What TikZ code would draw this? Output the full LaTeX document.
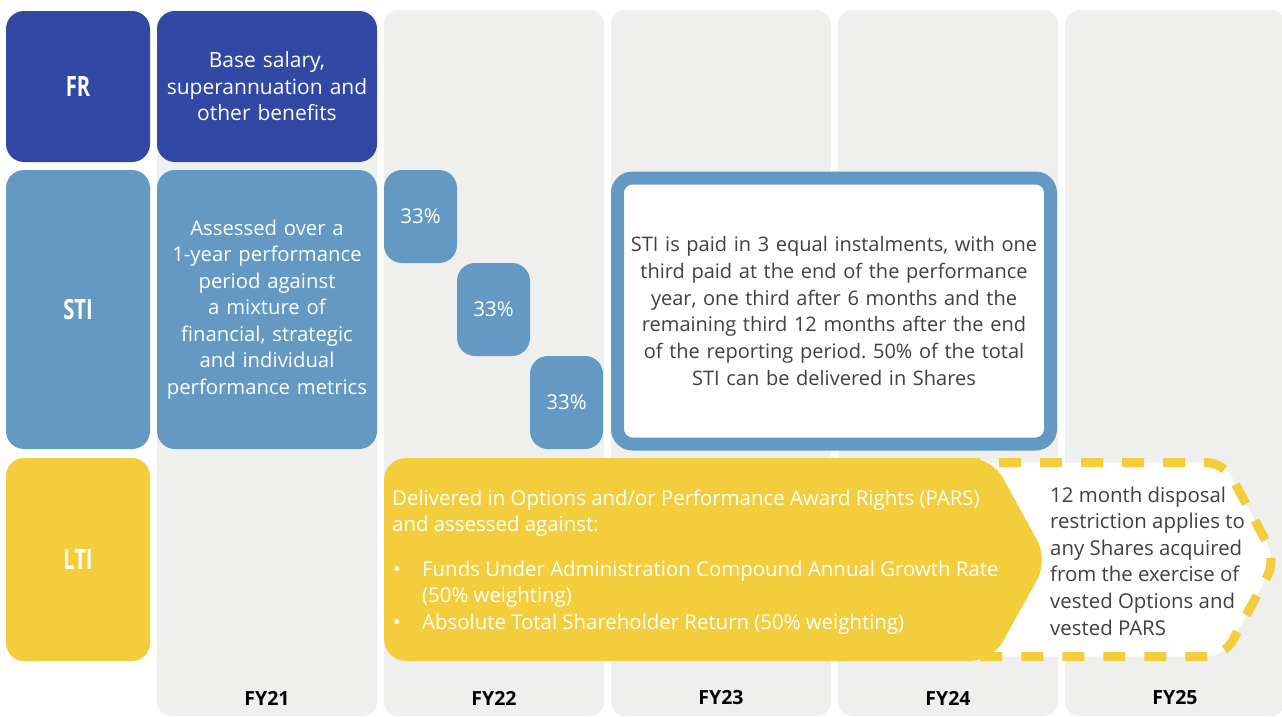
\documentclass[tikz,border=0pt]{standalone}
\usepackage{fontspec}
\setmainfont{Open Sans}
\newfontfamily\condfont[FakeStretch=0.72]{Open Sans}
\usetikzlibrary{positioning}

\definecolor{frblue}{RGB}{49,73,165}
\definecolor{stiblue}{RGB}{100,153,195}
\definecolor{ltiyel}{RGB}{243,205,59}
\definecolor{colgrey}{RGB}{239,239,237}
\definecolor{txtgrey}{RGB}{64,64,64}

\begin{document}
\frenchspacing
\begin{tikzpicture}[x=1pt,y=-1pt]

  % Definitions
  \tikzstyle{Column} = [rectangle, rounded corners=14pt, fill=colgrey, minimum width=220pt, minimum height=706pt, inner sep=0pt, outer sep=0pt]
  \tikzstyle{Label} = [rectangle, rounded corners=18pt, minimum width=144pt, inner sep=0pt, outer sep=0pt, text=white, font=\condfont\bfseries\fontsize{28}{30}\selectfont]
  \tikzstyle{Desc} = [rectangle, rounded corners=18pt, minimum width=220pt, text width=214pt, inner sep=3pt, outer sep=0pt, align=center, text=white, font=\fontsize{20.3}{26.5}\selectfont]
  \tikzstyle{Share} = [rectangle, rounded corners=18pt, fill=stiblue, minimum width=73pt, minimum height=93pt, inner sep=0pt, outer sep=0pt, text=white, font=\fontsize{20.5}{22}\selectfont]
  \tikzstyle{Year} = [font=\bfseries\fontsize{19.5}{22}\selectfont]
  \tikzstyle{Bodytext} = [align=left, inner sep=0pt, font=\fontsize{20.4}{26.6}\selectfont]

  \useasboundingbox (0,0) rectangle (1282,716);
  \fill [white] (0,0) rectangle (1282,716);
  \clip (0,0) rectangle (1282,716);

  % year columns
  \node (C21) [Column] at (267,363) {};
  \node (C22) [Column, right=7pt of C21] {};
  \node (C23) [Column, right=7pt of C22] {};
  \node (C24) [Column, right=7pt of C23] {};
  \node (C25) [Column, right=7pt of C24] {};

  \node (Y21) [Year] at ([yshift=18pt]C21.south) {FY21};
  \node (Y22) [Year] at ([yshift=18pt]C22.south) {FY22};
  \node (Y23) [Year] at ([yshift=18pt]C23.south) {FY23};
  \node (Y24) [Year] at ([yshift=18pt]C24.south) {FY24};
  \node (Y25) [Year] at ([yshift=18pt]C25.south) {FY25};

  % row labels
  \node (FR) [Label, fill=frblue, minimum height=151pt] at (78,86.5) {FR};
  \node (STI) [Label, fill=stiblue, minimum height=279pt, below=8pt of FR] {STI};
  \node (LTI) [Label, fill=ltiyel, minimum height=203pt, below=9pt of STI] {LTI};

  \node (FRtxt) [Desc, fill=frblue, minimum height=151pt, right=7pt of FR, font=\fontsize{21}{26.5}\selectfont] {Base salary,\\superannuation and\\other benefits};
  \node (STItxt) [Desc, fill=stiblue, minimum height=279pt, right=7pt of STI] {Assessed over a\\1-year performance\\period against\\a mixture of\\financial, strategic\\and individual\\performance metrics};

  % STI instalments
  \node (S1) [Share] at (420.5,216.5) {33\%};
  \node (S2) [Share, below right=0pt and 0pt of S1] {33\%};
  \node (S3) [Share, below right=0pt and 0pt of S2] {33\%};

  \node (STInote) [rectangle, rounded corners=15pt, draw=stiblue, line width=13pt, fill=white, minimum width=433pt, minimum height=266pt, text width=425pt, align=center, text=txtgrey, font=\fontsize{20}{26.8}\selectfont] at (834,311) {STI is paid in 3 equal instalments, with one\\third paid at the end of the performance\\year, one third after 6 months and the\\remaining third 12 months after the end\\of the reporting period. 50\% of the total\\STI can be delivered in Shares};

  % LTI arrows
  \draw [ltiyel, line width=9pt, dash pattern=on 22pt off 19pt, fill=white, rounded corners=18pt]
    (940,462.5) -- (1224,462.5) -- (1276,560) -- (1224,656.5) -- (940,656.5) -- cycle;
  \fill [ltiyel, rounded corners=22pt] (384,458) -- (992,458) -- (1048,560) -- (992,661) -- (384,661) -- cycle;

  \node (LTItxt) [Bodytext, anchor=west, text=white] at (392,562) {Delivered in Options and/or Performance Award Rights (PARS)\\and assessed against:\\[18pt]\makebox[30pt][l]{\hspace{1pt}\textbullet}Funds Under Administration Compound Annual Growth Rate\\\hspace*{30pt}(50\% weighting)\\\makebox[30pt][l]{\hspace{1pt}\textbullet}Absolute Total Shareholder Return (50\% weighting)};
  \node (LTInote) [Bodytext, anchor=west, text=txtgrey] at (1050,561) {12 month disposal\\restriction applies to\\any Shares acquired\\from the exercise of\\vested Options and\\vested PARS};

\end{tikzpicture}
\end{document}
